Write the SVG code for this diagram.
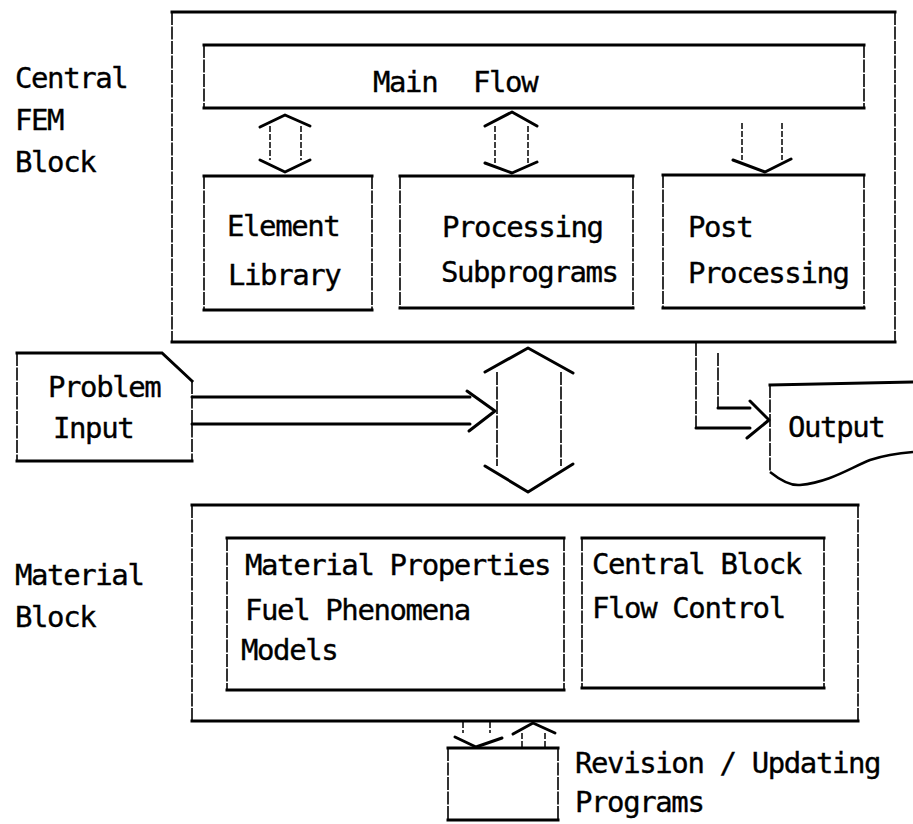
<svg xmlns="http://www.w3.org/2000/svg" width="913" height="824" viewBox="0 0 913 824">
  <style>
    .h { fill: none; stroke: #000; stroke-width: 3; stroke-linecap: square; }
    .v { fill: none; stroke: #000; stroke-width: 1.6; stroke-dasharray: 13 1.5; }
    .w { fill: none; stroke: #000; stroke-width: 3; stroke-linecap: round; stroke-linejoin: round; }
    .s { fill: none; stroke: #000; stroke-width: 1.5; stroke-dasharray: 6 2; }
    .o { fill: none; stroke: #000; stroke-width: 2.5; stroke-linejoin: miter; }
    text { font-family: "DejaVu Sans Mono", "Liberation Mono", monospace; font-size: 29px; letter-spacing: -1.4px; fill: #000; stroke: #000; stroke-width: 0.35; }
  </style>

  <!-- Central FEM block -->
  <g id="central-fem-block">
    <path class="h" d="M172 12 H895 M172 342 H895"/>
    <path class="v" d="M172 12 V342 M895 12 V342"/>
    <text x="15" y="88">Central</text>
    <text x="15" y="130">FEM</text>
    <text x="15" y="172">Block</text>
  </g>

  <g id="main-flow">
    <path class="h" d="M204 45 H864 M204 108 H864"/>
    <path class="v" d="M204 45 V108 M864 45 V108"/>
    <text x="373" y="92">Main<tspan x="473">Flow</tspan></text>
  </g>

  <g id="element-library">
    <path class="h" d="M204 176 H372 M204 310 H372"/>
    <path class="v" d="M204 176 V310 M372 176 V310"/>
    <text x="227" y="236">Element</text>
    <text x="228" y="285">Library</text>
  </g>

  <g id="processing-subprograms">
    <path class="h" d="M400 176 H633 M400 308 H633"/>
    <path class="v" d="M400 176 V308 M633 176 V308"/>
    <text x="442" y="237">Processing</text>
    <text x="441" y="282">Subprograms</text>
  </g>

  <g id="post-processing">
    <path class="h" d="M663 175 H864 M663 308 H864"/>
    <path class="v" d="M663 175 V308 M864 175 V308"/>
    <text x="688" y="237">Post</text>
    <text x="688" y="283">Processing</text>
  </g>

  <!-- Problem input card -->
  <g id="problem-input">
    <path class="h" d="M17 353 H162 L192 381 M17 461 H192"/>
    <path class="v" d="M17 353 V461 M192 381 V461"/>
    <text x="48" y="397">Problem</text>
    <text x="53" y="438">Input</text>
  </g>

  <!-- Output document -->
  <g id="output">
    <path class="h" d="M770 385 L913 382"/>
    <path class="v" d="M770 385 V472"/>
    <path class="o" d="M770 472 C780 480 790 486 800 485 C830 482 850 468 870 460 C885 455 900 453 913 452"/>
    <text x="788" y="437">Output</text>
  </g>

  <!-- Material block -->
  <g id="material-block">
    <path class="h" d="M192 505 H858 M192 721 H858"/>
    <path class="v" d="M192 505 V721 M858 505 V721"/>
    <text x="15" y="585">Material</text>
    <text x="15" y="627">Block</text>
  </g>

  <g id="material-properties">
    <path class="h" d="M227 538 H564 M227 690 H564"/>
    <path class="v" d="M227 538 V690 M564 538 V690"/>
    <text x="245" y="575">Material Properties</text>
    <text x="245" y="620">Fuel Phenomena</text>
    <text x="241" y="660">Models</text>
  </g>

  <g id="central-block-flow-control">
    <path class="h" d="M582 538 H824 M582 688 H824"/>
    <path class="v" d="M582 538 V688 M824 538 V688"/>
    <text x="592" y="574">Central Block</text>
    <text x="592" y="618">Flow Control</text>
  </g>

  <g id="revision-updating">
    <path class="h" d="M448 748 H558 M448 820 H558"/>
    <path class="v" d="M448 748 V820 M558 748 V820"/>
    <text x="575" y="773">Revision / Updating</text>
    <text x="575" y="812">Programs</text>
  </g>

  <!-- Connectors -->
  <g id="connectors">
    <!-- Main Flow <-> Element Library -->
    <path class="s" d="M270 126 V160 M301 126 V160"/>
    <polyline class="w" points="260,127 285,115 310,126"/>
    <polyline class="w" points="260,160 285,172 310,160"/>

    <!-- Main Flow <-> Processing Subprograms -->
    <path class="s" d="M495 126 V163 M528 126 V163"/>
    <polyline class="w" points="485,126 512,112 537,126"/>
    <polyline class="w" points="485,163 512,173 537,162"/>

    <!-- Main Flow -> Post Processing -->
    <path class="s" d="M742 123 V160 M782 123 V160"/>
    <polyline class="w" points="733,160 765,172 791,159"/>

    <!-- Central block <-> Material block -->
    <path class="v" d="M497 372 V466 M561 372 V466"/>
    <polyline class="w" points="485,372 528,348 573,373"/>
    <polyline class="w" points="485,466 528,492 573,464"/>

    <!-- Problem input -> exchange -->
    <path class="w" d="M192 397 H470 M192 424 H470"/>
    <polyline class="w" points="467,391 495,411 469,431"/>

    <!-- Post processing -> Output -->
    <path class="v" d="M696 343 V428 M718 353 V408"/>
    <path class="w" d="M696 428 H750 M718 408 H750"/>
    <polyline class="w" points="750,401 769,420 747,438"/>

    <!-- Material block <-> Revision / Updating -->
    <path class="s" d="M463 722 V733 M490 722 V733"/>
    <polyline class="w" points="455,737 476,747 502,738"/>
    <path class="s" d="M522 747 V733 M545 747 V733"/>
    <polyline class="w" points="513,734 533,723 555,733"/>
  </g>
</svg>
